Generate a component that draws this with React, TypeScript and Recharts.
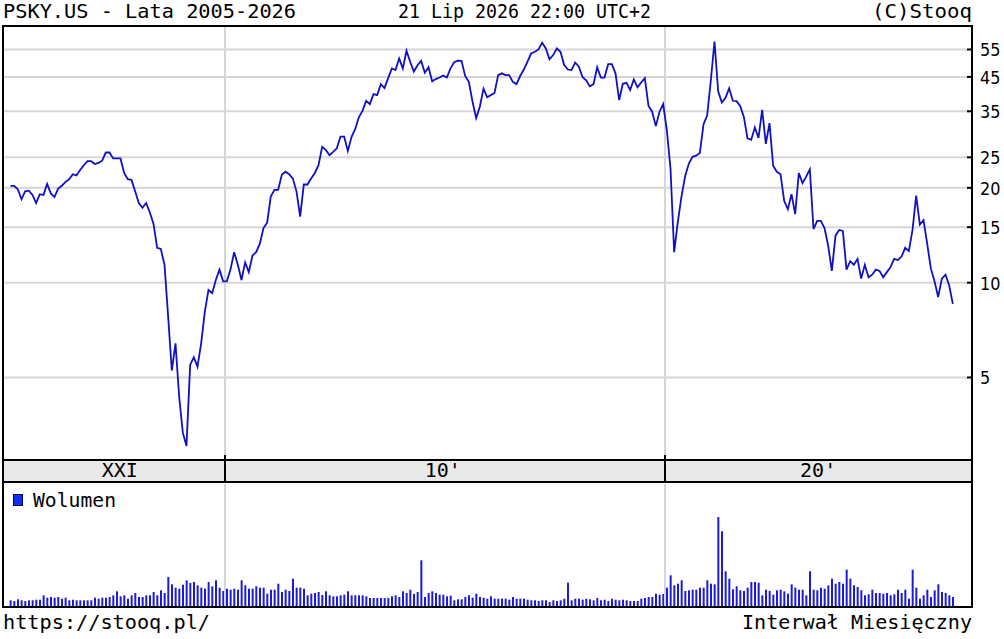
import React from "react";
import { LineChart, Line, BarChart, Bar, XAxis, YAxis, CartesianGrid, ReferenceLine } from "recharts";

// monthly closes, Feb 2005 .. Jul 2026
const prices: number[] = [
  20.3, 20.3, 19.8, 18.4, 19.5, 19.6, 19.0, 17.9, 19.1, 19.0,
  20.6, 19.2, 18.7, 19.9, 20.3, 20.9, 21.3, 22.1, 21.9, 22.8,
  23.6, 24.3, 24.3, 23.8, 24.0, 24.4, 25.9, 25.9, 24.8, 24.8,
  24.8, 22.3, 21.3, 21.2, 19.5, 17.9, 17.3, 17.9, 16.7, 15.4,
  12.9, 12.8, 11.4,
  7.8, 5.26, 6.42, 4.35, 3.34, 3.03, 5.48, 5.8, 5.41, 6.42,
  8.09, 9.48, 9.26, 10.2, 11.0, 10.1, 10.1, 11.0, 12.5, 11.4,
  10.2, 11.6, 10.8, 12.2,
  12.5, 13.3, 14.9, 15.5, 18.8, 19.7, 19.7, 22.0, 22.5, 22.1, 21.4, 19.5, 16.2,
  20.5, 20.5, 21.4, 22.3, 23.6, 27.0, 26.4, 25.4, 26.0, 26.7,
  29.1, 29.1, 26.2, 29.0, 30.7, 33.5, 35.1, 37.8, 36.9, 39.7,
  39.4, 42.7, 41.5, 44.6, 47.9, 47.3, 51.5, 47.9, 54.5, 50.3,
  46.8, 49.0, 50.6, 46.4, 48.3, 43.6, 44.3, 44.8, 45.5, 44.8,
  47.9, 50.1, 50.7, 50.6, 45.3, 43.4, 37.6, 33.3, 36.2, 41.3,
  38.8, 39.4, 40.0, 45.6, 46.2, 45.6, 45.6, 43.4, 42.7, 45.3,
  47.5, 50.3, 53.4, 54.1, 55.0, 57.8, 55.4, 51.2, 52.8, 55.4,
  54.1, 49.1, 47.5, 47.3, 50.0, 48.5, 45.0, 43.9, 42.0, 42.7,
  48.3, 44.8, 44.8, 49.4, 49.4, 46.2, 38.0, 42.8, 43.1, 40.9,
  44.2, 41.7, 43.2,
  44.6, 36.4, 34.9, 31.4, 34.9, 36.9, 30.5, 23.0, 12.5, 15.6,
  18.8, 21.8, 23.9, 25.1, 25.3, 25.8, 31.8, 34.0, 43.9, 58.3,
  40.5, 37.3, 38.6, 41.4, 37.8, 37.7, 36.4, 33.6, 28.7, 28.4,
  31.1, 28.8, 35.4, 27.6, 32.1, 23.5, 22.5, 22.1, 18.2, 17.1,
  19.1, 16.5, 22.3, 20.7, 21.7, 22.9, 14.8, 15.7, 15.7, 14.9,
  13.1, 10.9, 14.1, 14.7, 14.6, 11.0, 11.7, 11.4, 11.9, 10.3,
  11.4, 10.4, 10.6, 11.0, 10.9, 10.4, 10.8, 11.2, 11.9, 11.8,
  12.1, 12.9, 12.6, 14.7, 18.9, 15.3, 15.8, 13.3, 11.1, 10.1,
  9.0, 10.3, 10.6, 9.8, 8.56,
];

// monthly volume (relative units)
const volumes: number[] = [
  5.7, 5, 6.7, 5.7, 5, 5.7, 5.7, 6.3, 6.3,
  10.7, 8.3, 9, 8.3, 9, 7.3, 8.3, 5.7, 6.3, 5.7,
  5.7, 5.7, 5.7, 5.7, 8.3, 7.3, 8.3, 8.3, 9, 10.7,
  14.7, 9.7, 10.7, 7.3, 10.7, 13, 9, 9, 10.7, 10.7,
  14, 10.7, 15.7, 13, 29,
  21.7, 18.3, 17.3, 21.3, 25.7, 23, 24, 20.7, 18.3, 17.3, 24, 19.7, 25.7, 18.3, 15,
  17.3, 16.3, 17.3, 16.3, 25.7, 20.7, 17.3, 17.3, 19.7, 18.3,
  18.3, 12.3, 16.3, 16.3, 22.3, 14, 16.3, 15, 27.3,
  18.3, 18.3, 17.3, 10.7, 12.3, 13, 14, 11, 14.7, 10.7, 9.7,
  9.7, 10.7, 11.3, 14.7, 10.7, 10.7, 10.7, 10.7, 9.7, 8,
  8, 8, 8, 8, 8, 9.7, 10.7, 9, 14.7, 13, 16.3, 12, 14, 45.7,
  9, 13, 14.7, 13, 11.3, 11.3, 9.7, 10.3, 5.7, 6.7, 6.7, 9, 10.7, 8.3, 12.3, 9,
  8.3, 7.3, 9.7, 7.3, 7.3, 7.3, 7.3, 6.3, 9, 7.3, 7.3, 7.3, 6.3, 5.7, 5.7, 5, 5.7, 5.7, 4, 5.7, 5, 5.7, 7.3,
  23.3,
  5.7, 7.3, 7.3, 6.3, 7.3, 6.7, 5.7, 8, 5.7, 6.3, 5, 7.3, 6.3, 5.7, 6.3, 5.7, 5, 5, 5, 7.3, 8, 9, 9, 12.3, 11.3, 12, 18.3,
  30.7,
  20.7, 22.3, 25.7, 15, 15.7, 16.3, 16.3, 18.3, 18.3, 25.7, 22.3, 21.7,
  89, 74.7, 34.7,
  27.3, 16.7, 19.7, 15.7, 15, 18.3, 24, 24, 23.3, 10.7, 16.3, 15, 11.3, 15.7, 16.3, 14.7, 12.3, 21.7, 18.3, 16.3, 16.3, 10.7,
  34.7,
  16.3, 15.7, 18.3, 17.3, 20.7, 27.3, 22.3, 24, 22.3,
  36.3,
  27.3, 20.7, 19, 15.7, 10.7, 11.7, 16.3, 13, 13, 12.3, 13, 10.7, 11.7, 16.3, 13, 16.3, 7.3,
  36.3,
  18.3, 7.3, 10.7, 16.3, 9, 15.7, 21.7, 14, 13, 10.7, 9,
];

const priceTicks = [5, 10, 15, 20, 25, 35, 45, 55];
const decadeLines = [2010, 2020];
const eraLabels = [
  { t: 2007.61, label: "XXI" },
  { t: 2014.95, label: "10'" },
  { t: 2023.48, label: "20'" },
];

const timeDomain: [number, number] = [2004.955, 2026.977];
const priceDomain: [number, number] = [2.735, 65.3];
const volumeDomain: [number, number] = [0, 122];

// first point is Feb 2005, plotted mid-month
const data = prices.map((close, i) => ({
  t: 2005 + (i + 1.5) / 12,
  close,
  vol: volumes[i] ?? 0,
}));

const bandTicks = [...decadeLines, ...eraLabels.map((e) => e.t)].sort((a, b) => a - b);

const MONO = "DejaVu Sans Mono";
const GRID = "#d6d6d6";
const LINE = "#1010c4";

function BandTick(props: any) {
  const { x, y, payload } = props;
  const era = eraLabels.find((e) => e.t === payload.value);
  if (era) {
    return (
      <text x={x} y={y + 17} textAnchor="middle" fontFamily={MONO} fontSize={20} fill="#000">
        {era.label}
      </text>
    );
  }
  return <line x1={x} x2={x} y1={y - 5} y2={y + 22} stroke="#000" strokeWidth={2} />;
}

function PriceTick(props: any) {
  const { x, y, payload } = props;
  const label = String(payload.value);
  return (
    <text
      x={x}
      y={y}
      dy={7}
      fontFamily="DejaVu Sans"
      fontSize={18}
      fill="#000"
      textLength={label.length * 10.2}
      lengthAdjust="spacingAndGlyphs"
    >
      {label}
    </text>
  );
}

const noLabel = () => <g />;

export default function App() {
  return (
    <div style={{ position: "absolute", left: 0, top: 0, width: 1004, height: 639, background: "#fff" }}>
      <svg width={1004} height={639} style={{ position: "absolute", left: 0, top: 0 }}>
        <rect x={3} y={460} width={969} height={22} fill="#e9e9e9" />
      </svg>

      <div style={{ position: "absolute", left: 0, top: 0 }}>
        <LineChart width={1004} height={482} data={data} margin={{ top: 26, right: 0, bottom: 0, left: 3 }}>
          <CartesianGrid vertical={false} stroke={GRID} strokeWidth={2} />
          <XAxis
            dataKey="t"
            type="number"
            domain={timeDomain}
            allowDataOverflow
            ticks={bandTicks}
            interval={0}
            height={22}
            axisLine={false}
            tickLine={false}
            tickSize={0}
            tickMargin={0}
            tick={<BandTick />}
          />
          <XAxis
            xAxisId="top"
            orientation="top"
            type="number"
            domain={timeDomain}
            allowDataOverflow
            ticks={decadeLines}
            interval={0}
            height={0}
            axisLine={false}
            tickSize={-5}
            tickLine={{ stroke: "#000", strokeWidth: 2 }}
            tick={noLabel}
          />
          <YAxis
            orientation="right"
            scale="log"
            domain={priceDomain}
            allowDataOverflow
            ticks={priceTicks}
            interval={0}
            width={32}
            axisLine={false}
            tickSize={-5}
            tickMargin={13}
            tickLine={{ stroke: "#000", strokeWidth: 2 }}
            tick={<PriceTick />}
          />
          <YAxis
            yAxisId="l"
            orientation="left"
            scale="log"
            domain={priceDomain}
            allowDataOverflow
            ticks={priceTicks}
            interval={0}
            width={0}
            axisLine={false}
            tickSize={-5}
            tickLine={{ stroke: "#000", strokeWidth: 2 }}
            tick={noLabel}
          />
          {decadeLines.map((d) => (
            <ReferenceLine key={d} x={d} stroke={GRID} strokeWidth={2} />
          ))}
          <Line
            type="linear"
            dataKey="close"
            stroke={LINE}
            strokeWidth={1.8}
            dot={false}
            isAnimationActive={false}
          />
        </LineChart>
      </div>

      <div style={{ position: "absolute", left: 0, top: 482 }}>
        <BarChart width={1004} height={125} data={data} margin={{ top: 2, right: 32, bottom: 1, left: 3 }}>
          <XAxis dataKey="t" type="number" domain={timeDomain} allowDataOverflow hide />
          <XAxis
            xAxisId="top"
            orientation="top"
            type="number"
            domain={timeDomain}
            allowDataOverflow
            ticks={decadeLines}
            interval={0}
            height={0}
            axisLine={false}
            tickSize={-5}
            tickLine={{ stroke: "#000", strokeWidth: 2 }}
            tick={noLabel}
          />
          <YAxis domain={volumeDomain} hide />
          {decadeLines.map((d) => (
            <ReferenceLine key={d} x={d} stroke={GRID} strokeWidth={2} />
          ))}
          <Bar dataKey="vol" fill="#1c1cd6" barSize={2} isAnimationActive={false} />
        </BarChart>
      </div>

      <svg width={1004} height={639} style={{ position: "absolute", left: 0, top: 0, pointerEvents: "none" }}>
        <rect x={3} y={26} width={969} height={581} fill="none" stroke="#000" strokeWidth={2} />
        <line x1={3} x2={972} y1={460} y2={460} stroke="#000" strokeWidth={2} />
        <line x1={3} x2={972} y1={482} y2={482} stroke="#000" strokeWidth={2} />

        <g fontFamily={MONO} fontSize={20} fill="#000">
          <text x={3} y={18} textLength={293} lengthAdjust="spacingAndGlyphs">PSKY.US - Lata 2005-2026</text>
          <text x={398} y={18} textLength={253} lengthAdjust="spacingAndGlyphs">21 Lip 2026 22:00 UTC+2</text>
          <text x={872} y={18} textLength={100} lengthAdjust="spacingAndGlyphs">(C)Stooq</text>
          <text x={3} y={629} textLength={207} lengthAdjust="spacingAndGlyphs">https://stooq.pl/</text>
          <text x={742} y={629} textLength={230} lengthAdjust="spacingAndGlyphs">Interwał Miesięczny</text>
        </g>

        <rect x={13.5} y={494.5} width={9} height={11} fill="#1030f0" stroke="#000060" strokeWidth={1} />
        <text x={33} y={507} fontFamily={MONO} fontSize={20} fill="#000" textLength={83} lengthAdjust="spacingAndGlyphs">
          Wolumen
        </text>
      </svg>
    </div>
  );
}
